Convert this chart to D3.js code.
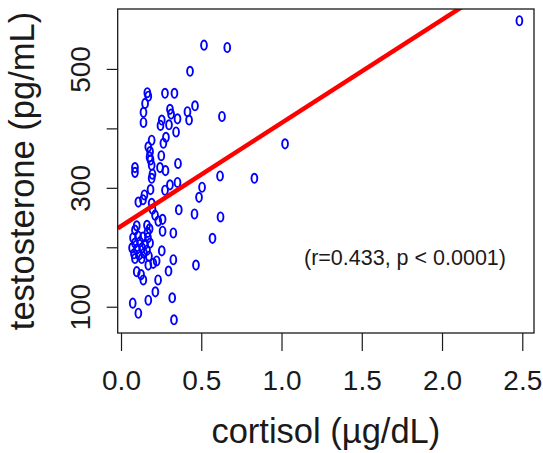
<!DOCTYPE html>
<html>
<head>
<meta charset="utf-8">
<script src="https://cdn.jsdelivr.net/npm/d3@7/dist/d3.min.js"></script>
<style>
  html, body { margin: 0; padding: 0; background: #fff; }
  svg { display: block; }
  text { font-family: "Liberation Sans", Arial, Helvetica, sans-serif; fill: #1a1a1a; }
</style>
</head>
<body>
<svg id="chart" width="543" height="453"></svg>
<script>
// ---- data ----
const cortisol = [
  0.517, 0.662, 0.430, 0.164, 0.170, 0.274, 0.333, 0.150, 0.140, 0.140,
  0.305, 0.312, 0.461, 0.414, 0.424, 0.352, 0.254, 0.246, 0.299, 0.343,
  0.629, 0.191, 0.280, 0.264, 0.170, 1.022, 2.482, 0.251, 0.181, 0.178,
  0.184, 0.191, 0.355, 0.087, 0.087, 0.243, 0.277, 0.196, 0.191, 0.617,
  0.831, 0.505, 0.486, 0.305, 0.352, 0.274, 0.184, 0.146, 0.137, 0.108,
  0.191, 0.196, 0.360, 0.458, 0.620, 0.212, 0.259, 0.232, 0.098, 0.087,
  0.162, 0.178, 0.165, 0.259, 0.326, 0.570, 0.075, 0.106, 0.137, 0.168,
  0.087, 0.118, 0.150, 0.181, 0.069, 0.100, 0.131, 0.162, 0.081, 0.112,
  0.143, 0.174, 0.087, 0.129, 0.254, 0.222, 0.201, 0.170, 0.326, 0.467,
  0.098, 0.125, 0.139, 0.296, 0.231, 0.214, 0.170, 0.319, 0.073, 0.108,
  0.330
];
const testosterone = [
  540, 536, 496, 460, 454, 459, 459, 442, 427, 410,
  432, 424, 438, 428, 414, 416, 414, 405, 406, 394,
  420, 380, 385, 375, 369, 374, 581, 354, 361, 352,
  347, 338, 341, 334, 326, 334, 329, 323, 316, 320,
  316, 301, 284, 305, 309, 296, 297, 288, 280, 276,
  274, 264, 263, 256, 251, 254, 247, 244, 236, 229,
  237, 231, 225, 227, 224, 215, 216, 219, 217, 216,
  207, 209, 205, 207, 199, 197, 199, 195, 189, 187,
  190, 185, 181, 181, 194, 177, 173, 170, 179, 170,
  159, 154, 145, 160, 145, 125, 111, 115, 106, 89,
  78
];
const xTicks = [0.0, 0.5, 1.0, 1.5, 2.0, 2.5];
const yTicks = [100, 200, 300, 400, 500];
const yTickLabels = ["100", "", "300", "", "500"];
const fitIntercept = 235.5;   // regression line
const fitSlope = 173.6;
const annotation = "(r=0.433, p < 0.0001)";
const xTitle = "cortisol (\u00b5g/dL)";
const yTitle = "testosterone (pg/mL)";

// ---- layout ----
const plot = { left: 117.7, right: 534, top: 9, bottom: 333 };
const svg = d3.select("#chart");

const x = d3.scaleLinear().domain([-0.0206, 2.573]).range([plot.left, plot.right]);
const y = d3.scaleLinear().domain([55.8, 600.8]).range([plot.bottom, plot.top]);

svg.append("defs").append("clipPath").attr("id", "clip")
  .append("rect")
  .attr("x", plot.left).attr("y", plot.top)
  .attr("width", plot.right - plot.left).attr("height", plot.bottom - plot.top);

// points
const pts = d3.zip(cortisol, testosterone);
svg.append("g").selectAll("ellipse").data(pts).join("ellipse")
  .attr("cx", d => x(d[0]))
  .attr("cy", d => y(d[1]))
  .attr("rx", 2.9).attr("ry", 4.6)
  .attr("fill", "none")
  .attr("stroke", "#0000ff")
  .attr("stroke-width", 1.9);

// regression line
const xd = x.domain();
svg.append("line")
  .attr("clip-path", "url(#clip)")
  .attr("x1", x(xd[0])).attr("y1", y(fitIntercept + fitSlope * xd[0]))
  .attr("x2", x(xd[1])).attr("y2", y(fitIntercept + fitSlope * xd[1]))
  .attr("stroke", "#ff0000").attr("stroke-width", 4.5);

// box
svg.append("rect")
  .attr("x", plot.left).attr("y", plot.top)
  .attr("width", plot.right - plot.left).attr("height", plot.bottom - plot.top)
  .attr("fill", "none").attr("stroke", "#1a1a1a").attr("stroke-width", 1.3);

// x axis
const xAxis = svg.append("g").attr("transform", `translate(0,${plot.bottom})`)
  .call(d3.axisBottom(x).tickValues(xTicks).tickFormat(d3.format(".1f")).tickSize(18).tickSizeOuter(0));
xAxis.select(".domain").remove();
xAxis.selectAll(".tick line").attr("stroke", "#1a1a1a").attr("stroke-width", 1.2);
xAxis.selectAll(".tick text")
  .attr("y", 0).attr("dy", null)
  .attr("transform", "translate(0,57)")
  .style("font-size", "28px").attr("fill", "#1a1a1a");

// y axis
const yAxis = svg.append("g").attr("transform", `translate(${plot.left},0)`)
  .call(d3.axisLeft(y).tickValues(yTicks).tickFormat((d, i) => yTickLabels[i]).tickSize(11).tickSizeOuter(0));
yAxis.select(".domain").remove();
yAxis.selectAll(".tick line").attr("stroke", "#1a1a1a").attr("stroke-width", 1.2);
yAxis.selectAll(".tick text")
  .attr("x", null).attr("dy", null)
  .attr("text-anchor", "middle")
  .attr("transform", `translate(${90 - plot.left},0) rotate(-90)`)
  .style("font-size", "28px").attr("fill", "#1a1a1a");

// titles
svg.append("text")
  .attr("x", (plot.left + plot.right) / 2).attr("y", 443)
  .attr("text-anchor", "middle").style("font-size", "34.5px")
  .text(xTitle);

svg.append("text")
  .attr("transform", `translate(34,${(plot.top + plot.bottom) / 2}) rotate(-90)`)
  .attr("text-anchor", "middle").style("font-size", "34.5px")
  .text(yTitle);

// annotation
svg.append("text")
  .attr("x", 405).attr("y", 265)
  .attr("text-anchor", "middle").style("font-size", "21.5px")
  .text(annotation);
</script>
</body>
</html>
